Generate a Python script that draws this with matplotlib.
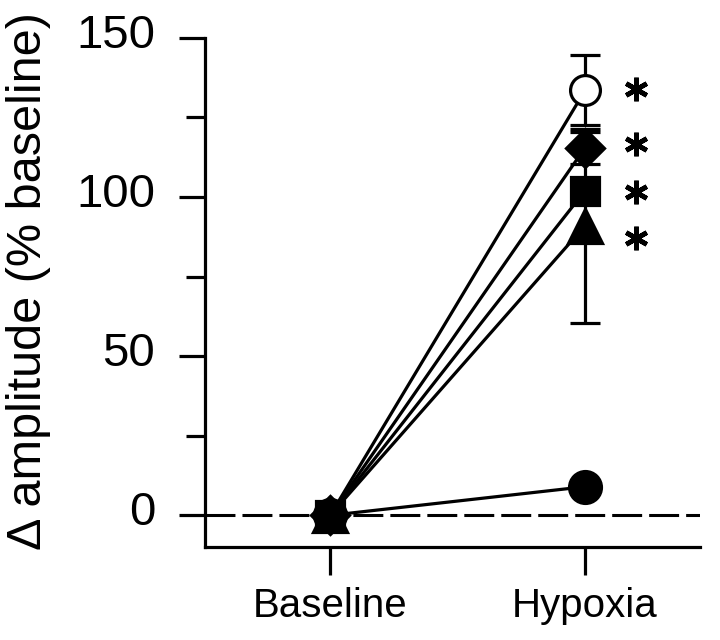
import matplotlib
matplotlib.use("Agg")
import matplotlib.pyplot as plt
import matplotlib.transforms as mtransforms

plt.rcParams['font.family'] = ['Liberation Sans', 'DejaVu Sans']

# Data
conditions = ["Baseline", "Hypoxia"]
open_circle = [0, 133.5]
diamond = [0, 115.5]
square = [0, 102]
triangle = [0, 91]
filled_circle = [0, 9]
# error at hypoxia for each series
err_open_circle = 11
err_diamond = 5
err_square = 3
err_triangle = 30.5
err_filled_circle = 2
# asterisk heights next to the significant groups
star_y = [134, 116.5, 101.5, 87]

# (values, error, marker, face, size)
series = [
    (open_circle, err_open_circle, 'o', 'white', 21.5),
    (diamond, err_diamond, 'D', 'black', 19.5),
    (square, err_square, 's', 'black', 20),
    (triangle, err_triangle, '^', 'black', 24.5),
    (filled_circle, err_filled_circle, 'o', 'black', 23),
]

fig = plt.figure(figsize=(7.2, 6.4), dpi=100)
ax = fig.add_axes([0.285, 0.145, 0.687, 0.796])

xs = [0, 1]
ax.axhline(0, color='black', linestyle=(0, (9.8, 2.3)), linewidth=2.2, zorder=1)

# lines first
for vals, err, mk, fc, ms in series:
    ax.plot(xs, vals, color='black', linewidth=2.3, zorder=2)
# error bars
for vals, err, mk, fc, ms in series:
    ax.errorbar([1], [vals[1]], yerr=err, color='black', linewidth=2.3,
                capsize=11, capthick=2.3, fmt='none', zorder=3)
# markers (open circle underneath at baseline)
for vals, err, mk, fc, ms in series:
    ax.plot(xs, vals, linestyle='none', marker=mk, markersize=ms,
            markerfacecolor=fc, markeredgecolor='black', markeredgewidth=2.3,
            zorder=4)

# significance asterisks
ax.plot([1.2] * len(star_y), star_y, linestyle='none', marker=(6, 2, 0),
        markersize=17, markeredgewidth=3.4, color='black', zorder=4,
        clip_on=False)

ax.set_xlim(-0.49, 1.45)
ax.set_ylim(-10, 150)
ax.set_xticks(xs)
ax.set_xticklabels(conditions, fontsize=29)
ax.set_yticks([0, 50, 100, 150])
ax.set_yticks([25, 75, 125], minor=True)
ax.tick_params(axis='y', which='major', length=19, width=2.3, labelsize=34, pad=17)
ax.tick_params(axis='y', which='minor', length=14, width=2.3)
ax.tick_params(axis='x', length=20, width=2.3, pad=9)
ax.set_ylabel("\u0394 amplitude (% baseline)", fontsize=35)
ax.yaxis.set_label_coords(-0.311, 0.5226)

# tick labels sit a little above their ticks in the original
up = mtransforms.ScaledTranslation(0, 5 / 72, fig.dpi_scale_trans)
for lab in ax.get_yticklabels():
    lab.set_transform(lab.get_transform() + up)

for side in ['top', 'right']:
    ax.spines[side].set_visible(False)
for side in ['left', 'bottom']:
    ax.spines[side].set_linewidth(2.3)

fig.savefig("out.png", dpi=100)
